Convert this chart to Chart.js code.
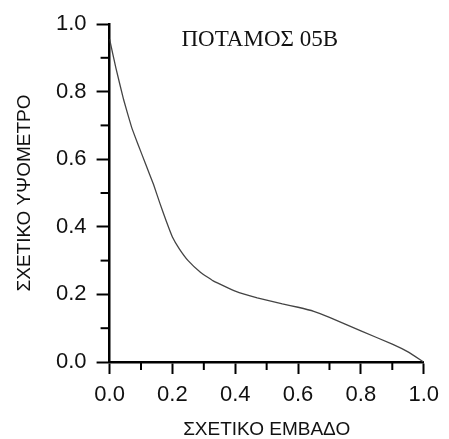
<!DOCTYPE html>
<html><head><meta charset="utf-8">
<script src="https://cdn.jsdelivr.net/npm/chart.js@4"></script>
<style>html,body{margin:0;padding:0;background:#fff}#wrap{width:449px;height:439px}</style>
</head><body><div id="wrap"><canvas id="c" width="449" height="439"></canvas></div>
<script>
const relArea = [0,0.02,0.045,0.07,0.09,0.115,0.14,0.16,0.18,0.2,0.222,0.25,0.29,0.33,0.4,0.47,0.55,0.6,0.65,0.7,0.8,0.9,0.95,1.0];
const relHeight = [0.955,0.87,0.775,0.695,0.645,0.585,0.525,0.47,0.418,0.37,0.335,0.30,0.265,0.24,0.21,0.19,0.172,0.162,0.15,0.132,0.092,0.053,0.03,0];
const titleText = 'ΠΟΤΑΜΟΣ 05Β';
const xTitle = 'ΣΧΕΤΙΚΟ ΕΜΒΑΔΟ';
const yTitle = 'ΣΧΕΤΙΚΟ ΥΨΟΜΕΤΡΟ';
const minorTicks = [0.1,0.3,0.5,0.7,0.9];

const points = relArea.map((x,i)=>({x:x,y:relHeight[i]}));

const extras = {
  id:'extras',
  afterDraw(chart){
    const ctx=chart.ctx, xs=chart.scales.x, ys=chart.scales.y;
    ctx.save();
    ctx.strokeStyle='#000'; ctx.lineWidth=2;
    const x0=xs.getPixelForValue(0), y0=ys.getPixelForValue(0);
    minorTicks.forEach(v=>{
      const px=xs.getPixelForValue(v);
      ctx.beginPath(); ctx.moveTo(px,y0); ctx.lineTo(px,y0+8); ctx.stroke();
      const py=ys.getPixelForValue(v);
      ctx.beginPath(); ctx.moveTo(x0,py); ctx.lineTo(x0-9,py); ctx.stroke();
    });
    ctx.fillStyle='#111';
    ctx.font='23px "Liberation Serif", "Times New Roman", serif';
    ctx.textAlign='center'; ctx.textBaseline='middle';
    ctx.fillText(titleText, xs.getPixelForValue(0.478), ys.getPixelForValue(0.952));
    ctx.restore();
  }
};

new Chart(document.getElementById('c'),{
  type:'scatter',
  data:{datasets:[{data:points,showLine:true,borderColor:'#444',borderWidth:1.3,pointRadius:0,tension:0.1,fill:false}]},
  options:{
    responsive:false,animation:false,
    layout:{padding:{top:24,right:7,bottom:0,left:15}},
    plugins:{legend:{display:false},tooltip:{enabled:false}},
    scales:{
      x:{type:'linear',min:0,max:1,
        border:{display:true,color:'#000',width:2.5},
        grid:{drawOnChartArea:false,drawTicks:true,tickLength:12,tickWidth:2,tickColor:'#000'},
        ticks:{stepSize:0.2,color:'#111',padding:10,font:{family:'"Liberation Sans", Arial, sans-serif',size:22,lineHeight:1},callback:v=>v.toFixed(1),maxRotation:0},
        title:{display:true,text:xTitle,color:'#111',font:{family:'"Liberation Sans", Arial, sans-serif',size:19,lineHeight:1},padding:{top:4,bottom:0}}
      },
      y:{type:'linear',min:0,max:1,
        border:{display:true,color:'#000',width:2.5},
        grid:{drawOnChartArea:false,drawTicks:true,tickLength:13,tickWidth:2,tickColor:'#000'},
        ticks:{stepSize:0.2,color:'#111',padding:10,font:{family:'"Liberation Sans", Arial, sans-serif',size:22},callback:v=>v.toFixed(1)},
        title:{display:true,text:yTitle,color:'#111',font:{family:'"Liberation Sans", Arial, sans-serif',size:19,lineHeight:1},padding:{top:0,bottom:12}}
      }
    }
  },
  plugins:[extras]
});
</script></body></html>
